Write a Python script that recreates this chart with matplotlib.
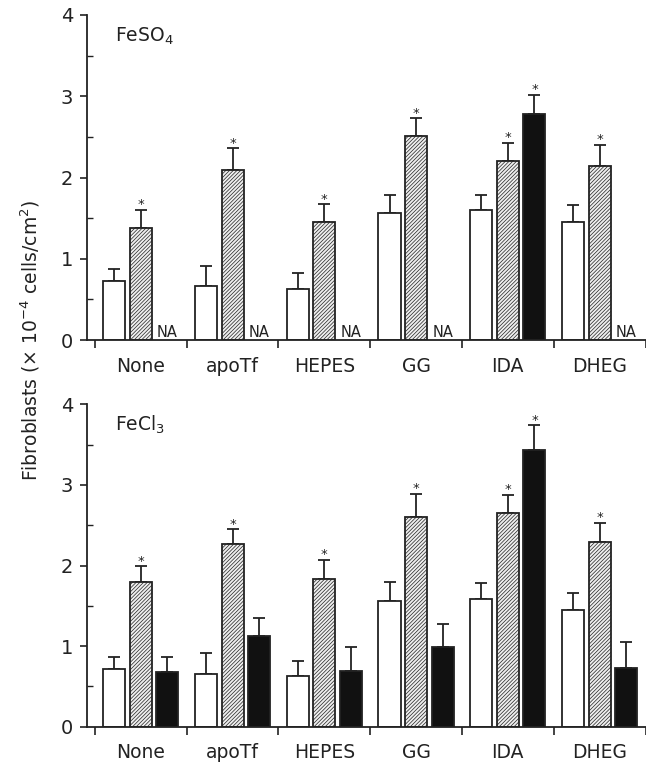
import numpy as np
import matplotlib
matplotlib.use("Agg")
import matplotlib.pyplot as plt

plt.rcParams['font.family'] = ['DejaVu Sans']
plt.rcParams['mathtext.default'] = 'regular'
plt.rcParams['hatch.color'] = '#8a8a8a'
plt.rcParams['hatch.linewidth'] = 0.5

categories = ["None", "apoTf", "HEPES", "GG", "IDA", "DHEG"]

# FeSO4 panel
so4_white = [0.73, 0.66, 0.63, 1.56, 1.60, 1.45]
so4_white_err = [0.15, 0.25, 0.19, 0.22, 0.18, 0.21]
so4_hatch = [1.38, 2.09, 1.45, 2.51, 2.20, 2.14]
so4_hatch_err = [0.22, 0.27, 0.22, 0.22, 0.23, 0.26]
so4_black = [np.nan, np.nan, np.nan, np.nan, 2.78, np.nan]
so4_black_err = [0, 0, 0, 0, 0.24, 0]
so4_hatch_star = [True, True, True, True, True, True]
so4_black_star = [False, False, False, False, True, False]

# FeCl3 panel
cl3_white = [0.72, 0.66, 0.63, 1.56, 1.59, 1.45]
cl3_white_err = [0.15, 0.25, 0.19, 0.23, 0.19, 0.21]
cl3_hatch = [1.80, 2.27, 1.83, 2.60, 2.65, 2.29]
cl3_hatch_err = [0.19, 0.18, 0.24, 0.29, 0.23, 0.24]
cl3_black = [0.68, 1.13, 0.69, 0.99, 3.43, 0.73]
cl3_black_err = [0.19, 0.22, 0.30, 0.29, 0.31, 0.32]
cl3_hatch_star = [True, True, True, True, True, True]
cl3_black_star = [False, False, False, False, True, False]

fig = plt.figure(figsize=(6.46, 7.65), dpi=100)
left = 87 / 646
right = 645.5 / 646
ax1 = fig.add_axes([left, 1 - 340 / 765, right - left, 325 / 765])
ax2 = fig.add_axes([left, 1 - 726.7 / 765, right - left, 322.4 / 765])

x = np.arange(len(categories))
bw = 0.24
off = 0.29
ecol = '#222222'


def draw(ax, white, werr, hatch, herr, black, berr, hstar, bstar, title):
    ekw = dict(ecolor=ecol, elinewidth=1.3, capsize=4, capthick=1.3)
    ax.bar(x - off, white, bw, color='white', edgecolor=ecol, linewidth=1.3, zorder=2)
    ax.errorbar(x - off, white, yerr=[np.zeros(len(x)), werr], fmt='none', zorder=1, **ekw)
    ax.bar(x, hatch, bw, color='#eeeeee', edgecolor=ecol, linewidth=1.3, hatch='/////////', zorder=2)
    ax.errorbar(x, hatch, yerr=[np.zeros(len(x)), herr], fmt='none', zorder=1, **ekw)
    b = np.array(black, dtype=float)
    ok = ~np.isnan(b)
    ax.bar(x[ok] + off, b[ok], bw, color='#111111', edgecolor=ecol, linewidth=1.3, zorder=2)
    ax.errorbar(x[ok] + off, b[ok], yerr=[np.zeros(ok.sum()), np.array(berr)[ok]],
                fmt='none', zorder=1, **ekw)
    for i in range(len(x)):
        if hstar[i]:
            ax.text(x[i], hatch[i] + herr[i] + 0.02, '*', ha='center', va='baseline',
                    fontsize=9.5, color='#222222')
        if ok[i] and bstar[i]:
            ax.text(x[i] + off, b[i] + berr[i] + 0.02, '*', ha='center', va='baseline',
                    fontsize=9.5, color='#222222')
        if not ok[i]:
            ax.text(x[i] + off, 0.04, 'NA', ha='center', va='baseline', fontsize=10.5,
                    color='#222222')
    ax.set_xlim(-0.587, 5.5)
    ax.set_ylim(0, 4)
    for s in ['top', 'right']:
        ax.spines[s].set_visible(False)
    for s in ['left', 'bottom']:
        ax.spines[s].set_linewidth(1.3)
        ax.spines[s].set_color(ecol)
    ax.set_yticks([0, 1, 2, 3, 4])
    ax.set_yticks([0.5, 1.5, 2.5, 3.5], minor=True)
    ax.tick_params(axis='y', which='major', direction='out', length=5, width=1.2,
                   labelsize=14, pad=5, colors='#222222')
    ax.tick_params(axis='y', which='minor', direction='in', length=4, width=1.0, colors='#222222')
    ax.set_xticks(np.arange(-0.5, 6.0, 1.0))
    ax.set_xticklabels([])
    ax.set_xticks(x, minor=True)
    ax.set_xticklabels(categories, minor=True)
    ax.tick_params(axis='x', which='major', direction='out', length=6, width=1.2, colors='#222222')
    ax.tick_params(axis='x', which='minor', length=0, labelsize=13.5, pad=12, colors='#222222')
    ax.text(0.05, 0.935, title, transform=ax.transAxes, ha='left', va='center',
            fontsize=13.5, color='#222222')


draw(ax1, so4_white, so4_white_err, so4_hatch, so4_hatch_err, so4_black, so4_black_err,
     so4_hatch_star, so4_black_star, 'FeSO$_4$')
draw(ax2, cl3_white, cl3_white_err, cl3_hatch, cl3_hatch_err, cl3_black, cl3_black_err,
     cl3_hatch_star, cl3_black_star, 'FeCl$_3$')

fig.text(30 / 646, 1 - 340 / 765, 'Fibroblasts (× 10$^{-4}$ cells/cm$^2$)', rotation=90,
         ha='center', va='center', fontsize=13.5, color='#222222')

fig.savefig('out.png', dpi=100)
